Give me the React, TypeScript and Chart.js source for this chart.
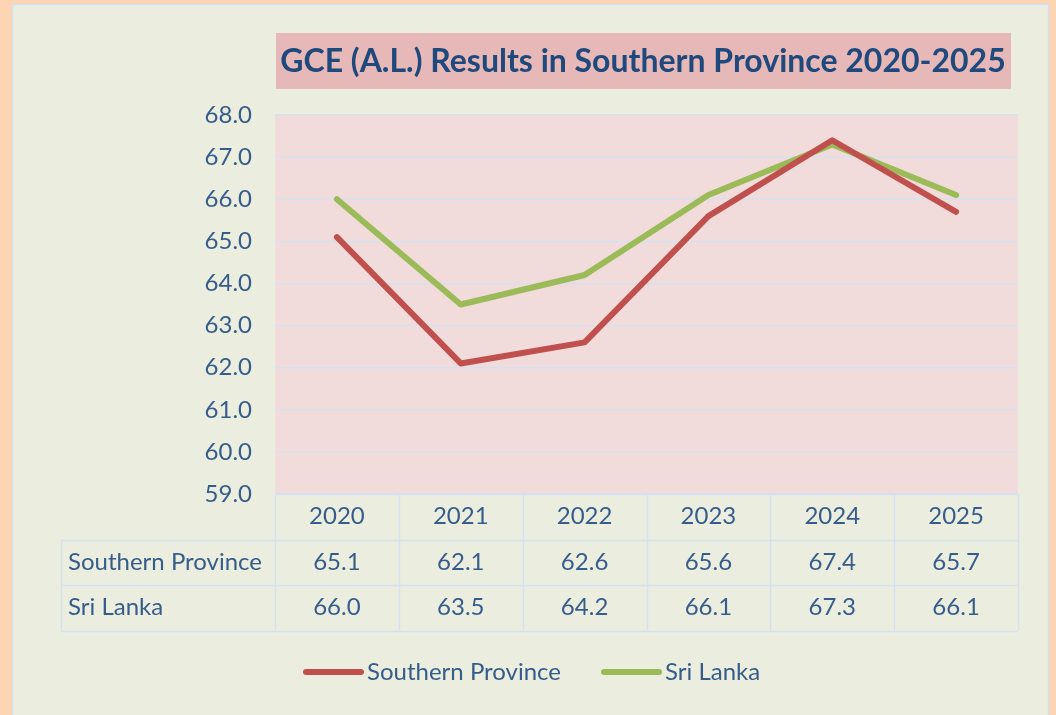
import React, { useEffect, useRef } from "react";
import { Chart, registerables } from "chart.js";

Chart.register(...registerables);

const title = "GCE (A.L.) Results in Southern Province 2020-2025";
const categories = ["2020", "2021", "2022", "2023", "2024", "2025"];
const seriesNames = ["Southern Province", "Sri Lanka"];
const southernProvince = [65.1, 62.1, 62.6, 65.6, 67.4, 65.7];
const sriLanka = [66.0, 63.5, 64.2, 66.1, 67.3, 66.1];
const yMin = 59;
const yMax = 68;
const yStep = 1;

const COLORS = {
  peach: "#FDD5B3",
  panel: "#EBEEDE",
  panelBorder: "#D3E0F2",
  plot: "#F2DCDB",
  titleBox: "#E6B8B7",
  titleText: "#1F497D",
  text: "#365C8C",
  grid: "#D5E0F1",
  red: "#C0504D",
  green: "#9BBB59",
};
const FONT = "Lato, 'Noto Sans', sans-serif";

const decorPlugin = {
  id: "decor",
  beforeDraw(chart: any) {
    const { ctx, chartArea } = chart;
    ctx.save();
    ctx.fillStyle = COLORS.peach;
    ctx.fillRect(0, 0, chart.width, chart.height);
    ctx.fillStyle = COLORS.panel;
    ctx.fillRect(12, 4, 1037, 720);
    ctx.strokeStyle = COLORS.panelBorder;
    ctx.lineWidth = 1.5;
    ctx.strokeRect(12.5, 4.5, 1036, 720);
    ctx.fillStyle = COLORS.plot;
    ctx.fillRect(chartArea.left, chartArea.top, chartArea.right - chartArea.left, chartArea.bottom - chartArea.top);
    // title
    ctx.fillStyle = COLORS.titleBox;
    ctx.fillRect(276, 33, 735, 56);
    ctx.fillStyle = COLORS.titleText;
    ctx.font = `bold 32px ${FONT}`;
    ctx.textAlign = "center";
    ctx.textBaseline = "middle";
    ctx.fillText(title, 643, 62);
    ctx.restore();
  },
  afterDraw(chart: any) {
    const { ctx, chartArea } = chart;
    const xScale = chart.scales.x;
    const n = categories.length;
    const colW = (chartArea.right - chartArea.left) / n;
    const left = chartArea.left;
    const right = chartArea.right;
    const top = chartArea.bottom;
    const rowH = 45.5;
    const tableLeft = 61;
    ctx.save();
    ctx.strokeStyle = COLORS.grid;
    ctx.lineWidth = 1.5;
    const hl = (x1: number, x2: number, y: number) => {
      ctx.beginPath();
      ctx.moveTo(x1, Math.round(y) + 0.5);
      ctx.lineTo(x2, Math.round(y) + 0.5);
      ctx.stroke();
    };
    const vl = (x: number, y1: number, y2: number) => {
      ctx.beginPath();
      ctx.moveTo(Math.round(x) + 0.5, y1);
      ctx.lineTo(Math.round(x) + 0.5, y2);
      ctx.stroke();
    };
    hl(left, right, top);
    for (let r = 1; r <= 3; r++) hl(tableLeft, right, top + r * rowH);
    vl(tableLeft, top + rowH, top + 3 * rowH);
    for (let i = 0; i <= n; i++) vl(left + i * colW, top, top + 3 * rowH);

    ctx.fillStyle = COLORS.text;
    ctx.font = `24px ${FONT}`;
    ctx.textBaseline = "middle";
    ctx.textAlign = "center";
    categories.forEach((c, i) => {
      const cx = xScale.getPixelForValue(i);
      ctx.fillText(c, cx, top + rowH * 0.5);
    });
    const rows = [southernProvince, sriLanka];
    rows.forEach((vals, r) => {
      const cy = top + rowH * (r + 1.5);
      ctx.textAlign = "left";
      ctx.fillText(seriesNames[r], 68, cy);
      ctx.textAlign = "center";
      vals.forEach((v, i) => {
        ctx.fillText(v.toFixed(1), xScale.getPixelForValue(i), cy);
      });
    });

    // legend
    const legendY = 672;
    const items = chart.data.datasets.map((d: any) => ({ label: d.label, color: d.borderColor }));
    const starts = [303, 601];
    items.forEach((it: any, k: number) => {
      const x0 = starts[k];
      ctx.strokeStyle = it.color;
      ctx.lineWidth = 6;
      ctx.lineCap = "round";
      ctx.beginPath();
      ctx.moveTo(x0 + 3, legendY);
      ctx.lineTo(x0 + 58, legendY);
      ctx.stroke();
      ctx.fillStyle = COLORS.text;
      ctx.textAlign = "left";
      ctx.fillText(it.label, x0 + 64, legendY);
    });
    ctx.restore();
  },
};

export default function App() {
  const ref = useRef<HTMLCanvasElement>(null);
  useEffect(() => {
    if (!ref.current) return;
    const chart = new Chart(ref.current, {
      type: "line",
      data: {
        labels: categories,
        datasets: [
          {
            label: seriesNames[0],
            data: southernProvince,
            borderColor: COLORS.red,
            backgroundColor: COLORS.red,
            borderWidth: 6,
            pointRadius: 0,
            borderJoinStyle: "round",
            borderCapStyle: "round",
            tension: 0,
          },
          {
            label: seriesNames[1],
            data: sriLanka,
            borderColor: COLORS.green,
            backgroundColor: COLORS.green,
            borderWidth: 6,
            pointRadius: 0,
            borderJoinStyle: "round",
            borderCapStyle: "round",
            tension: 0,
          },
        ],
      },
      options: {
        responsive: false,
        animation: false,
        layout: { padding: { top: 115, bottom: 221, right: 38, left: 0 } },
        plugins: { legend: { display: false }, title: { display: false }, tooltip: { enabled: false } },
        scales: {
          x: { type: "category", offset: true, display: false },
          y: {
            min: yMin,
            max: yMax,
            afterFit: (s: any) => {
              s.width = 275;
            },
            border: { display: false },
            grid: { color: COLORS.grid, lineWidth: 1.5, drawTicks: false },
            ticks: {
              stepSize: yStep,
              padding: 23,
              color: COLORS.text,
              font: { family: FONT, size: 24 },
              callback: (v: any) => Number(v).toFixed(1),
            },
          },
        },
      },
      plugins: [decorPlugin],
    });
    return () => chart.destroy();
  }, []);
  return (
    <div style={{ position: "fixed", left: 0, top: 0, width: 1056, height: 715 }}>
      <canvas ref={ref} width={1056} height={715} style={{ display: "block" }} />
    </div>
  );
}
